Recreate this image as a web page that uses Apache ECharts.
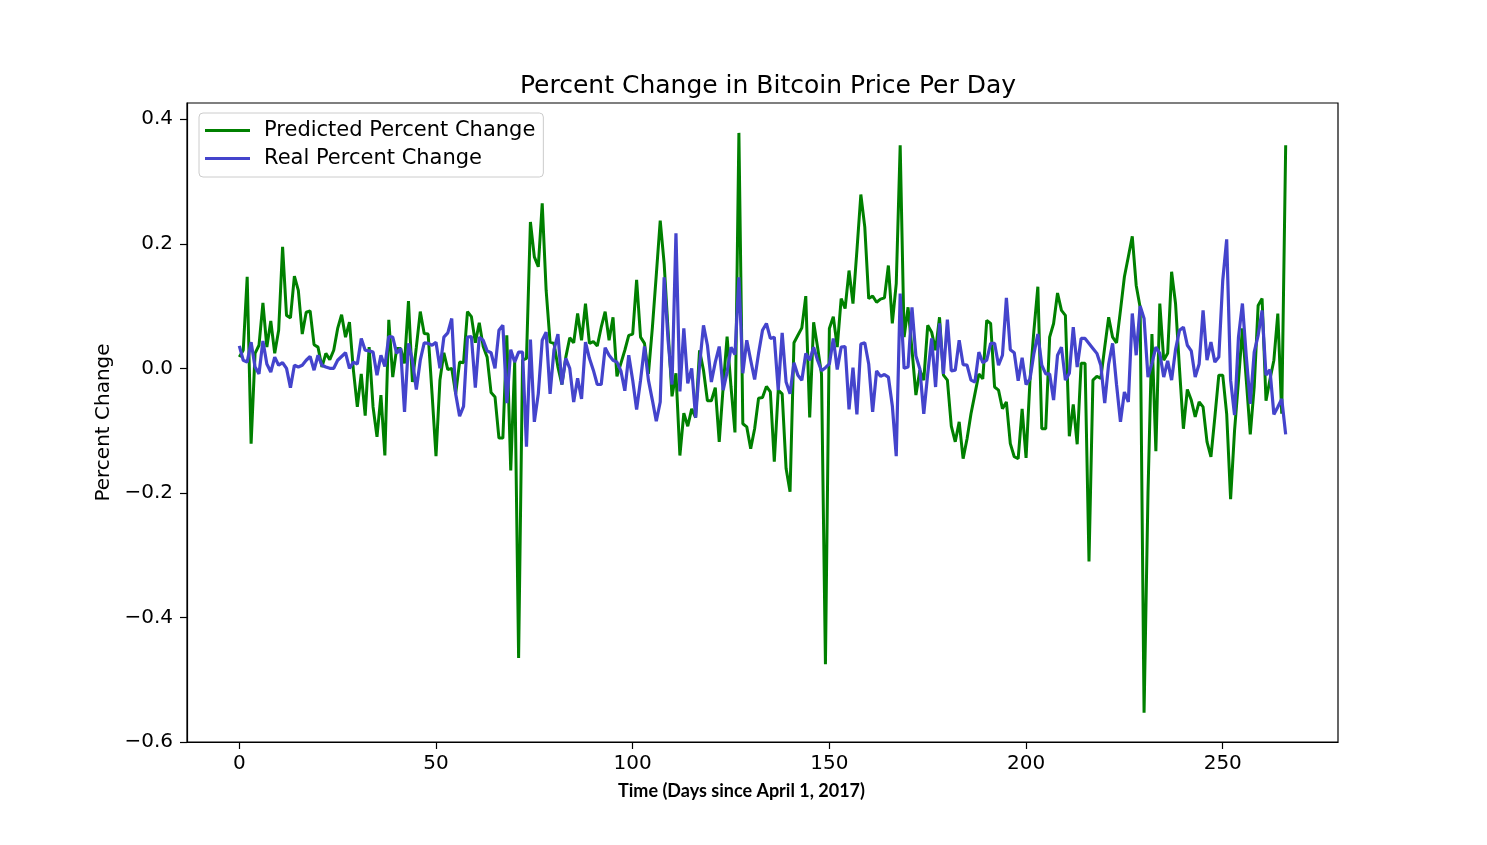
<!DOCTYPE html>
<html>
<head>
<meta charset="utf-8">
<title>Percent Change in Bitcoin Price Per Day</title>
<script src="https://cdn.jsdelivr.net/npm/echarts@6/dist/echarts.min.js"></script>
<style>
  html, body { margin: 0; padding: 0; background: #fff; }
  #main { width: 1487px; height: 845px; }
</style>
</head>
<body>
<div id="main"></div>
<script>
// predicted percent change per day (green)
var predicted = [
  0.018, 0.029, 0.147, -0.121, 0.024, 0.037, 0.105, 0.034, 0.076, 0.024,
  0.061, 0.195, 0.085, 0.081, 0.148, 0.125, 0.055, 0.090, 0.092, 0.038,
  0.034, 0.002, 0.024, 0.014, 0.029, 0.064, 0.086, 0.050, 0.074, -0.003,
  -0.062, -0.009, -0.076, 0.034, -0.062, -0.110, -0.043, -0.140, 0.078, -0.014,
  0.032, 0.032, 0.008, 0.108, -0.022, 0.034, 0.091, 0.056, 0.055, -0.041,
  -0.141, -0.019, 0.025, -0.002, 0.000, -0.041, 0.010, 0.009, 0.091, 0.083,
  0.041, 0.073, 0.035, 0.018, -0.039, -0.046, -0.112, -0.112, 0.053, -0.164,
  0.010, -0.465, 0.013, 0.016, 0.235, 0.179, 0.163, 0.265, 0.125, 0.042,
  0.040, 0.002, -0.026, 0.018, 0.049, 0.041, 0.088, 0.045, 0.104, 0.040,
  0.043, 0.036, 0.066, 0.091, 0.045, 0.082, -0.013, 0.008, 0.029, 0.053,
  0.055, 0.142, 0.050, 0.040, -0.009, 0.065, 0.150, 0.237, 0.168, 0.060,
  -0.045, -0.008, -0.140, -0.072, -0.093, -0.065, -0.079, 0.029, -0.003, -0.052,
  -0.052, -0.031, -0.118, -0.030, 0.051, -0.030, -0.103, 0.378, -0.089, -0.094,
  -0.129, -0.097, -0.048, -0.047, -0.029, -0.038, -0.150, -0.035, -0.041, -0.161,
  -0.198, 0.041, 0.053, 0.065, 0.116, -0.079, 0.074, 0.034, -0.009, -0.475,
  0.064, 0.083, 0.034, 0.112, 0.096, 0.157, 0.104, 0.189, 0.279, 0.227,
  0.112, 0.116, 0.106, 0.111, 0.113, 0.165, 0.072, 0.136, 0.358, 0.050,
  0.098, 0.030, -0.043, -0.003, -0.019, 0.069, 0.058, 0.029, 0.082, -0.011,
  -0.019, -0.093, -0.118, -0.086, -0.145, -0.113, -0.073, -0.041, -0.009, -0.017,
  0.077, 0.072, -0.030, -0.035, -0.065, -0.054, -0.121, -0.142, -0.145, -0.065,
  -0.144, -0.019, 0.061, 0.131, -0.097, -0.097, 0.050, 0.072, 0.121, 0.093,
  0.085, -0.109, -0.058, -0.122, 0.008, 0.008, -0.310, -0.019, -0.013, -0.016,
  0.034, 0.082, 0.050, 0.041, 0.093, 0.147, 0.179, 0.212, 0.133, 0.098,
  -0.553, -0.200, 0.055, -0.133, 0.104, 0.013, 0.024, 0.155, 0.104, 0.000,
  -0.097, -0.034, -0.051, -0.078, -0.054, -0.062, -0.118, -0.142, -0.078, -0.011,
  -0.011, -0.073, -0.210, -0.100, -0.020, 0.064, -0.020, -0.106, -0.030, 0.101,
  0.112, -0.052, -0.018, 0.013, 0.088, -0.073, 0.358
];

// real percent change per day (blue)
var real = [
  0.036, 0.013, 0.010, 0.042, 0.002, -0.009, 0.044, 0.007, -0.006, 0.018,
  0.005, 0.009, 0.000, -0.031, 0.005, 0.002, 0.005, 0.013, 0.019, -0.003,
  0.021, 0.005, 0.002, 0.000, 0.000, 0.013, 0.019, 0.025, 0.000, 0.010,
  0.007, 0.048, 0.029, 0.028, 0.026, -0.011, 0.021, 0.003, 0.051, 0.050,
  0.024, 0.032, -0.070, 0.040, 0.013, -0.034, 0.013, 0.041, 0.040, 0.037,
  0.042, 0.000, 0.050, 0.057, 0.080, -0.041, -0.077, -0.061, 0.050, 0.051,
  -0.031, 0.050, 0.045, 0.028, 0.025, 0.000, 0.061, 0.069, -0.056, 0.030,
  0.010, 0.026, 0.026, -0.126, 0.046, -0.086, -0.041, 0.045, 0.058, -0.041,
  0.030, 0.055, -0.026, 0.016, 0.000, -0.054, -0.016, -0.049, 0.042, 0.016,
  -0.003, -0.026, -0.026, 0.033, 0.021, 0.013, 0.010, -0.004, -0.036, 0.021,
  -0.019, -0.066, -0.019, 0.035, -0.019, -0.051, -0.085, -0.054, 0.146, 0.045,
  -0.026, 0.217, -0.037, 0.064, -0.024, 0.000, -0.079, 0.005, 0.069, 0.037,
  -0.022, 0.010, 0.035, -0.035, -0.006, 0.034, 0.022, 0.146, -0.008, 0.045,
  0.013, -0.018, 0.024, 0.061, 0.072, 0.048, 0.050, -0.035, 0.057, -0.022,
  -0.041, 0.009, -0.011, -0.019, 0.024, 0.013, 0.034, 0.013, -0.004, 0.001,
  0.007, 0.048, -0.002, 0.034, 0.035, -0.066, 0.001, -0.074, 0.039, 0.041,
  0.007, -0.070, -0.004, -0.013, -0.010, -0.014, -0.060, -0.141, 0.120, 0.000,
  0.002, 0.098, 0.020, -0.001, -0.073, -0.009, 0.048, -0.030, 0.072, -0.009,
  0.078, -0.004, -0.003, 0.045, 0.006, 0.005, -0.019, -0.022, 0.026, 0.009,
  0.013, 0.040, 0.040, 0.005, 0.021, 0.113, 0.030, 0.025, -0.020, 0.017,
  -0.026, -0.017, 0.024, 0.055, 0.005, -0.009, -0.009, -0.051, 0.021, 0.034,
  -0.019, -0.008, 0.066, 0.002, 0.048, 0.048, 0.040, 0.032, 0.024, 0.005,
  -0.056, 0.007, 0.040, -0.026, -0.086, -0.038, -0.054, 0.088, 0.021, 0.100,
  0.080, -0.014, 0.008, 0.034, 0.024, -0.014, 0.012, -0.019, 0.030, 0.061,
  0.066, 0.037, 0.028, -0.014, 0.007, 0.093, 0.013, 0.042, 0.010, 0.018,
  0.141, 0.207, -0.019, -0.075, 0.050, 0.104, 0.018, -0.057, 0.026, 0.053,
  0.093, -0.011, -0.002, -0.074, -0.062, -0.049, -0.106
];

// tick labels
var xTicks = [0, 50, 100, 150, 200, 250];
var yTicks = [-0.6, -0.4, -0.2, 0.0, 0.2, 0.4];

function pairs(values) {
  var out = [];
  for (var i = 0; i < values.length; i++) {
    out.push([i, values[i]]);
  }
  return out;
}

var font = 'DejaVu Sans';
var chart = echarts.init(document.getElementById('main'), null, { renderer: 'canvas' });

chart.setOption({
  backgroundColor: '#ffffff',
  animation: false,
  title: {
    text: 'Percent Change in Bitcoin Price Per Day',
    left: 763,
    textAlign: 'center',
    top: 69,
    textStyle: { fontFamily: font, fontSize: 25, fontWeight: 'normal', color: '#000' }
  },
  legend: {
    orient: 'vertical',
    left: 199,
    top: 113,
    icon: 'rect',
    itemWidth: 45,
    itemHeight: 3,
    itemGap: 7,
    padding: [7, 8, 8, 6],
    borderColor: '#cccccc',
    borderWidth: 1,
    borderRadius: 4,
    backgroundColor: 'rgba(255,255,255,0.8)',
    textStyle: { fontFamily: font, fontSize: 21, color: '#000', padding: [0, 0, 0, 9] },
    data: ['Predicted Percent Change', 'Real Percent Change']
  },
  grid: {
    left: 187,
    right: 149,
    top: 103,
    bottom: 103,
    show: true,
    borderColor: '#000',
    borderWidth: 1.2,
    backgroundColor: 'transparent'
  },
  xAxis: {
    type: 'value',
    min: -13.3,
    max: 279.3,
    name: 'Time (Days since April 1, 2017)',
    nameLocation: 'middle',
    nameGap: 40,
    nameTextStyle: {
      fontFamily: 'Lato', fontSize: 18, fontWeight: 'bold', color: '#000',
      padding: [0, 42, 0, 0]
    },
    axisLine: { show: true, onZero: false, lineStyle: { color: '#000', width: 1.2 } },
    axisTick: { show: true, length: 7, lineStyle: { color: '#000', width: 1.2 }, customValues: xTicks },
    axisLabel: {
      fontFamily: font, fontSize: 20, color: '#000', margin: 12,
      customValues: xTicks,
      formatter: function (v) { return String(v); }
    },
    splitLine: { show: false }
  },
  yAxis: {
    type: 'value',
    min: -0.6,
    max: 0.426,
    name: 'Percent Change',
    nameLocation: 'middle',
    nameGap: 72,
    nameTextStyle: { fontFamily: font, fontSize: 20, color: '#000' },
    axisLine: { show: true, onZero: false, lineStyle: { color: '#000', width: 1.2 } },
    axisTick: { show: true, length: 7, lineStyle: { color: '#000', width: 1.2 }, customValues: yTicks },
    axisLabel: {
      fontFamily: font, fontSize: 20, color: '#000', margin: 14,
      customValues: yTicks,
      formatter: function (v) { return v.toFixed(1).replace('-', '\u2212'); }
    },
    splitLine: { show: false }
  },
  series: [
    {
      name: 'Predicted Percent Change',
      type: 'line',
      data: pairs(predicted),
      symbol: 'none',
      color: '#008000',
      lineStyle: { color: '#008000', width: 3 },
      z: 2
    },
    {
      name: 'Real Percent Change',
      type: 'line',
      data: pairs(real),
      symbol: 'none',
      color: '#4444cc',
      lineStyle: { color: '#4444cc', width: 3.2 },
      z: 3
    }
  ]
});
</script>
</body>
</html>
